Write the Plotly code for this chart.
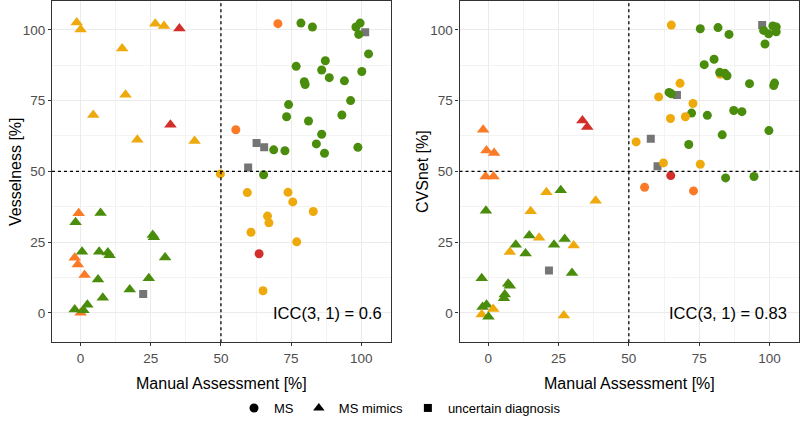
import plotly.graph_objects as go

# ---------------- data ----------------
COLORS = {"G": "#4A8C0B", "Y": "#EEAA0C", "O": "#FA7A26", "R": "#D42E2A", "S": "#757575"}
THRESHOLD = 50
ICC_TEXT = ["ICC(3, 1) = 0.6", "ICC(3, 1) = 0.83"]
Y_TITLES = ["Vesselness [%]", "CVSnet [%]"]
X_TITLE = "Manual Assessment [%]"
TICKS = [0, 25, 50, 75, 100]
LEGEND_NAMES = ["MS", "MS mimics", "uncertain diagnosis"]

# Left panel (Vesselness)
left_tri_x = [-1.4, 0, 14.8, 16, 4.5, 20.2, 26.6, 29.7, 35.2, 32, 40.6, -0.7, -1.8, 7.1, 25.7, 26.1,
              0.5, -2.1, -1, 6.6, 9.7, 10.3, 30.1, 1.4, 6.2, 24.3, 17.5, 7.9, 2.4, 0, -2.1, 1]
left_tri_y = [102.6, 100.1, 93.4, 77.1, 69.9, 61.2, 102.2, 101.4, 100.5, 66.5, 60.7, 35.2, 32, 35.3, 27.5, 26.7,
              21.6, 19.5, 17.1, 21.6, 21.3, 20.4, 19.6, 13.4, 11.8, 12.2, 8.3, 5.3, 2.9, 0, 1.2, 0.9]
left_tri_c = ["Y", "Y", "Y", "Y", "Y", "Y", "Y", "Y", "R", "R", "Y", "O", "G", "G", "G", "G",
              "G", "O", "O", "G", "G", "G", "G", "O", "G", "G", "G", "G", "G", "O", "G", "G"]

left_sq_x = [22.3, 62.7, 65.4, 59.7, 101.4]
left_sq_y = [6.7, 60, 58.5, 51.4, 99.2]

left_circ_x = [70.3, 78.5, 82.6, 98.1, 99.6, 99.1, 102.6, 87.2, 76.8, 85.9, 88.6, 94, 100.2, 79.7, 80, 96.2,
               74.1, 73.4, 93.1, 81.2, 85.9, 84, 86.9, 98.8, 68.8, 72.8, 55.3, 49.8, 65.2, 59.4, 73.9, 75.6,
               82.9, 66.6, 67.1, 60.7, 77, 63.6, 65]
left_circ_y = [102.2, 102.4, 101, 101, 102.4, 98.4, 91.5, 89.1, 87.1, 85.8, 83.1, 82, 85.3, 81.7, 80.7, 75,
               73.6, 69.3, 69.9, 67.8, 63.1, 59.7, 56.4, 58.5, 57.6, 57.3, 64.7, 49.1, 48.8, 42.5, 42.6, 39.2,
               35.8, 34.2, 31.8, 28.5, 25.1, 20.9, 7.8]
left_circ_c = ["O", "G", "G", "G", "G", "G", "G", "G", "G", "G", "G", "G", "G", "G", "G", "G",
               "G", "G", "G", "G", "G", "G", "G", "G", "G", "G", "O", "Y", "G", "Y", "Y", "Y",
               "Y", "Y", "Y", "Y", "Y", "R", "Y"]

# Right panel (CVSnet)
right_tri_x = [-1.8, -0.6, 2.1, 33.5, 35.2, -0.9, 1.9, 20.7, 25.8, 38.2, -0.8, 15.1, 14.6, 18.1, 27.2, 9.8,
               23.4, 30.4, 7.7, 13.3, 29.8, -2.3, 7.1, 7.7, 5.9, 5.6, -2, -0.6, 1.8, -2.3, 0.1, 26.9]
right_tri_y = [64.7, 57.4, 56.5, 68, 65.7, 48.2, 48.2, 42.6, 43.3, 39.6, 36.1, 35.9, 27.3, 26.5, 26.1, 24.1,
               24.1, 23.8, 21.5, 21, 14.1, 12.2, 10.3, 9.6, 6.5, 5.2, 2.1, 2.9, 1.4, -0.6, -1.4, -0.95]
right_tri_c = ["O", "O", "O", "R", "R", "O", "O", "Y", "G", "Y", "G", "Y", "G", "Y", "G", "G",
               "G", "Y", "Y", "G", "G", "G", "G", "G", "G", "G", "G", "G", "Y", "Y", "G", "Y"]

right_sq_x = [21.6, 97.4, 67.1, 57.8, 60.2]
right_sq_y = [15, 101.7, 77, 61.5, 51.8]

right_circ_x = [65.1, 75.4, 81.7, 85.6, 101.2, 102.4, 97.9, 99.7, 102.4, 98.4, 80.3, 76.8, 82.5, 82.3, 84.1, 84.9,
                92.9, 101.8, 101.5, 68.2, 64.3, 65.1, 60.6, 72.8, 72.3, 77.9, 87.3, 90.2, 64.8, 70.1, 99.8, 83.2,
                52.6, 71.3, 62.3, 75.4, 64.9, 84.4, 94.5, 55.6, 73]
right_circ_y = [101.7, 100.4, 100.8, 98.4, 101.4, 101, 99.8, 98.6, 99.3, 95, 89.6, 87.7, 84.3, 85, 84.7, 83.8,
                81, 81.2, 80.3, 81.1, 77.9, 77.4, 76.3, 74, 70.6, 69.8, 71.5, 71.1, 68.7, 69.3, 64.4, 62.9,
                60.4, 59.5, 53, 52.5, 48.5, 47.7, 48.2, 44.4, 43.1]
right_circ_c = ["Y", "G", "G", "G", "G", "G", "G", "G", "G", "G", "G", "G", "Y", "G", "G", "G",
                "G", "G", "G", "Y", "G", "G", "Y", "Y", "G", "G", "G", "G", "Y", "Y", "G", "G",
                "Y", "G", "Y", "Y", "R", "G", "G", "O", "O"]

# ---------------- figure ----------------
W, H = 800, 422
fig = go.Figure()

panels = [
    dict(xa="x", ya="y", tri=(left_tri_x, left_tri_y, left_tri_c), sq=(left_sq_x, left_sq_y),
         circ=(left_circ_x, left_circ_y, left_circ_c)),
    dict(xa="x2", ya="y2", tri=(right_tri_x, right_tri_y, right_tri_c), sq=(right_sq_x, right_sq_y),
         circ=(right_circ_x, right_circ_y, right_circ_c)),
]

for p in panels:
    tx, ty, tc = p["tri"]
    fig.add_trace(go.Scatter(x=tx, y=ty, mode="markers", xaxis=p["xa"], yaxis=p["ya"], showlegend=False,
                             marker=dict(symbol="triangle-up", size=11, color=[COLORS[c] for c in tc],
                                         line=dict(width=0)), hoverinfo="x+y"))
    sx, sy = p["sq"]
    fig.add_trace(go.Scatter(x=sx, y=sy, mode="markers", xaxis=p["xa"], yaxis=p["ya"], showlegend=False,
                             marker=dict(symbol="square", size=8, color=COLORS["S"], line=dict(width=0)),
                             hoverinfo="x+y"))
    cx, cy, cc = p["circ"]
    fig.add_trace(go.Scatter(x=cx, y=cy, mode="markers", xaxis=p["xa"], yaxis=p["ya"], showlegend=False,
                             marker=dict(symbol="circle", size=9, color=[COLORS[c] for c in cc],
                                         line=dict(width=0)), hoverinfo="x+y"))

# legend dummies
for name, sym, sz in zip(LEGEND_NAMES, ["circle", "triangle-up", "square"], [9, 10, 8]):
    fig.add_trace(go.Scatter(x=[None], y=[None], mode="markers", name=name, xaxis="x", yaxis="y",
                             marker=dict(symbol=sym, size=sz, color="black")))

XR = [-10.2, 110.6]
YR = [-10.4, 110.2]
axis_common = dict(
    range=XR, tickvals=TICKS, ticks="outside", ticklen=3, tickwidth=1.1, tickcolor="#333333",
    showline=True, linecolor="#333333", linewidth=1.1, mirror=True,
    showgrid=True, gridcolor="#EBEBEB", gridwidth=1.1,
    minor=dict(dtick=12.5, tick0=12.5, showgrid=True, gridcolor="#F3F3F3", gridwidth=0.6, ticks=""),
    tickfont=dict(family="Liberation Sans, Arial", size=13.5, color="#4D4D4D"),
    zeroline=False, fixedrange=True, automargin=False,
)
yaxis_common = dict(axis_common)
yaxis_common["range"] = YR

pad_l = [52 / W, 459.5 / W]
pad_r = [391 / W, 799.3 / W]
y_dom = [(H - 342.3) / H, (H - 1) / H]

fig.update_layout(
    width=W, height=H, margin=dict(l=0, r=0, t=0, b=0, autoexpand=False),
    paper_bgcolor="white", plot_bgcolor="white",
    xaxis=dict(axis_common, domain=[pad_l[0], pad_r[0]], anchor="y"),
    yaxis=dict(yaxis_common, domain=y_dom, anchor="x"),
    xaxis2=dict(axis_common, domain=[pad_l[1], pad_r[1]], anchor="y2"),
    yaxis2=dict(yaxis_common, domain=y_dom, anchor="x2"),
    showlegend=True,
    legend=dict(orientation="h", x=0.5, xanchor="center", y=(H - 408) / H, yanchor="middle",
                font=dict(family="Liberation Sans, Arial", size=13, color="black"),
                bgcolor="rgba(0,0,0,0)", itemsizing="trace"),
    font=dict(family="Liberation Sans, Arial"),
)

# threshold lines
for xa, ya in [("x", "y"), ("x2", "y2")]:
    fig.add_shape(type="line", xref=xa, yref=ya, x0=THRESHOLD, x1=THRESHOLD, y0=YR[0], y1=YR[1],
                  line=dict(color="black", width=1.3, dash="dot"))
    fig.add_shape(type="line", xref=xa, yref=ya, x0=XR[0], x1=XR[1], y0=THRESHOLD, y1=THRESHOLD,
                  line=dict(color="black", width=1.3, dash="dot"))

# ICC annotations
for i, (xa, ya) in enumerate([("x", "y"), ("x2", "y2")]):
    fig.add_annotation(text=ICC_TEXT[i], xref=xa + " domain", yref=ya + " domain",
                       x=0.98 if i == 0 else 0.97, y=(342.3 - 313) / 341.3, xanchor="right", yanchor="middle",
                       showarrow=False, font=dict(family="Liberation Sans, Arial", size=16.5, color="black"))
    # x title
    fig.add_annotation(text=X_TITLE, xref="paper", yref="paper",
                       x=(pad_l[i] + pad_r[i]) / 2, y=(H - 383) / H, xanchor="center", yanchor="middle",
                       showarrow=False, font=dict(family="Liberation Sans, Arial", size=16, color="black"))
    # y title
    fig.add_annotation(text=Y_TITLES[i], xref="paper", yref="paper", textangle=-90,
                       x=(15 if i == 0 else 422) / W, y=(H - 172) / H, xanchor="center", yanchor="middle",
                       showarrow=False, font=dict(family="Liberation Sans, Arial", size=16, color="black"))

fig.write_html("out.html", config={"displayModeBar": False},
               post_script="document.body.style.margin='0px';document.body.style.padding='0px';"
                           "document.body.style.overflow='hidden';")
